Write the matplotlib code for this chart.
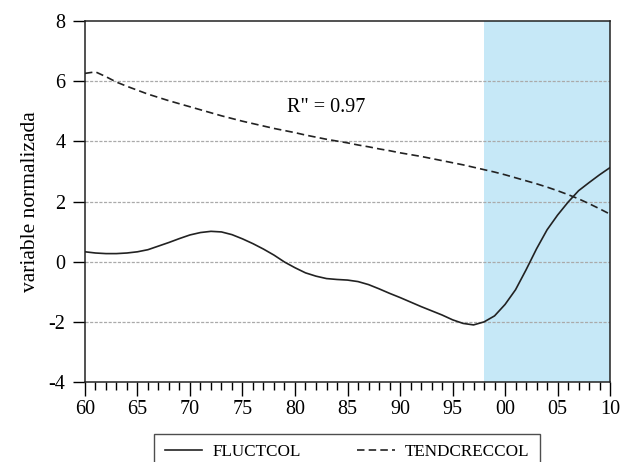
import matplotlib

matplotlib.use("Agg")
import matplotlib.pyplot as plt
from matplotlib.ticker import MultipleLocator, FuncFormatter

plt.rcParams["font.family"] = ["Liberation Serif", "DejaVu Serif"]
plt.rcParams["axes.unicode_minus"] = False

years = list(range(1960, 2011))

# FLUCTCOL (solid)
fluctcol = [
    0.33, 0.29, 0.27, 0.27, 0.29, 0.33, 0.40, 0.52, 0.64, 0.77,
    0.89, 0.97, 1.01, 0.99, 0.90, 0.76, 0.60, 0.42, 0.22, -0.01,
    -0.20, -0.37, -0.48, -0.56, -0.59, -0.61, -0.66, -0.76, -0.90, -1.05,
    -1.19, -1.34, -1.49, -1.63, -1.77, -1.93, -2.05, -2.10, -2.00, -1.80,
    -1.42, -0.93, -0.27, 0.43, 1.06, 1.55, 1.98, 2.36, 2.63, 2.89,
    3.13,
]

# TENDCRECCOL (dashed)
tendcreccol = [
    6.26, 6.31, 6.15, 5.97, 5.83, 5.70, 5.57, 5.46, 5.35, 5.25,
    5.15, 5.05, 4.95, 4.85, 4.76, 4.67, 4.59, 4.51, 4.43, 4.36,
    4.29, 4.21, 4.14, 4.07, 4.01, 3.95, 3.88, 3.82, 3.75, 3.69,
    3.62, 3.56, 3.50, 3.43, 3.36, 3.29, 3.22, 3.14, 3.06, 2.98,
    2.89, 2.79, 2.69, 2.59, 2.48, 2.36, 2.23, 2.09, 1.93, 1.76,
    1.58,
]

shade_span = (1998, 2010)
grid_levels = [-2, 0, 2, 4, 6]
annotation = 'R" = 0.97'

fig = plt.figure(figsize=(6.2, 4.62), dpi=100)
ax = fig.add_axes([0.137, 0.173, 0.847, 0.7815])

ax.axvspan(*shade_span, color="#c6e8f7", lw=0, zorder=0)
for g in grid_levels:
    ax.axhline(g, color="#aaaaaa", lw=0.9, ls=(0, (2.5, 1.2)), zorder=1)

ax.plot(years, fluctcol, color="#222222", lw=1.2, label="FLUCTCOL", zorder=3)
ax.plot(years, tendcreccol, color="#222222", lw=1.2, ls=(0, (4.5, 2.5)),
        label="TENDCRECCOL", zorder=3)

ax.set_xlim(1960, 2010)
ax.set_ylim(-4, 8)
ax.xaxis.set_major_locator(MultipleLocator(5))
ax.xaxis.set_minor_locator(MultipleLocator(1))
ax.xaxis.set_major_formatter(FuncFormatter(lambda v, p: "%02d" % (int(round(v)) % 100)))
ax.yaxis.set_major_locator(MultipleLocator(2))
ax.tick_params(axis="x", which="major", length=10, width=1, labelsize=14.5, pad=3)
ax.tick_params(axis="x", which="minor", length=6, width=1)
ax.tick_params(axis="y", length=9, width=1, labelsize=14.5, pad=5)
for s in ax.spines.values():
    s.set_linewidth(1.1)
    s.set_color("#222222")

ax.set_ylabel("variable normalizada", fontsize=15.5, labelpad=6)
ax.text(1979.2, 5.12, annotation, fontsize=14.5, va="center", ha="left")

fig.legend(loc="upper center", bbox_to_anchor=(0.5597, 1 - 434 / 462), ncol=2,
           fontsize=12.3, frameon=True, fancybox=False, edgecolor="#222222",
           handlelength=2.2, handletextpad=0.6, columnspacing=3.3,
           borderpad=0.6, borderaxespad=0)

fig.savefig("out.png", dpi=100)
